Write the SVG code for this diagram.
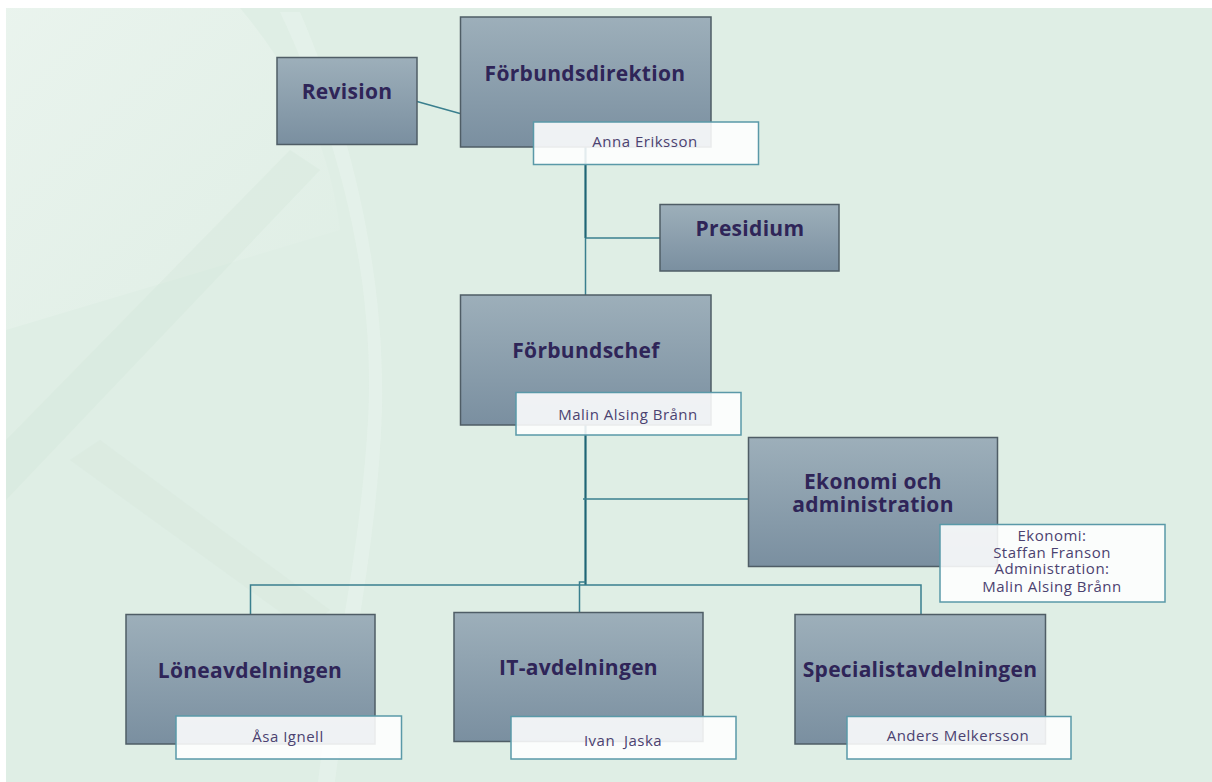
<svg xmlns="http://www.w3.org/2000/svg" width="1212" height="782" viewBox="0 0 1212 782">
<defs>
<linearGradient id="boxg" x1="0" y1="0" x2="0" y2="1">
<stop offset="0" stop-color="#9dafba"/>
<stop offset="1" stop-color="#7a8fa0"/>
</linearGradient>
<linearGradient id="fadeg" x1="0" y1="0" x2="1" y2="1">
<stop offset="0" stop-color="#eef6f1" stop-opacity="0.7"/>
<stop offset="1" stop-color="#eef6f1" stop-opacity="0"/>
</linearGradient>
<style>
.node rect.box{fill:url(#boxg);stroke:#4f5d66;stroke-width:1.5}
.node rect.lab{fill:#ffffff;fill-opacity:0.88;stroke:#5a99a8;stroke-width:1.5}
.title{font-family:"Open Sans",Lato,"Liberation Sans",sans-serif;font-weight:bold;font-size:21px;letter-spacing:0.3px;fill:#2f2558;text-anchor:middle}
.name{font-family:"Open Sans",Lato,"Liberation Sans",sans-serif;font-size:15px;letter-spacing:0.5px;fill:#4b4270;text-anchor:middle}
.conn line,.conn polyline{stroke:#3a7f8e;stroke-width:1.5;fill:none}
.conn .main{stroke:#1f6575;stroke-width:2.2}
</style>
</defs>
<rect x="0" y="0" width="1212" height="782" fill="#ffffff"/>
<rect x="6" y="8" width="1206" height="774" fill="#dfeee5"/>
<g id="background">
<path d="M6,8 L240,8 C300,80 330,150 340,230 L6,330 Z" fill="url(#fadeg)"/>
<path d="M6,440 L290,150 L320,170 L6,500 Z" fill="#d2e3d8" opacity="0.3"/>
<path d="M280,12 C345,150 375,290 368,420 C360,560 330,680 318,782 L335,782 C350,660 378,540 382,410 C385,280 355,140 300,12 Z" fill="#e8f3ec" opacity="0.6"/>
<path d="M100,440 L330,610 L305,630 L70,460 Z" fill="#d2e3d8" opacity="0.25"/>
</g>
<g id="connectors" class="conn">
<line x1="417" y1="101.5" x2="460" y2="113.5"/>
<line class="main" x1="585.5" y1="147" x2="585.5" y2="238"/>
<line x1="585.5" y1="238" x2="585.5" y2="295"/>
<line x1="585.5" y1="238" x2="660" y2="238"/>
<line class="main" x1="585.5" y1="425" x2="585.5" y2="585"/>
<line x1="583" y1="499" x2="748" y2="499"/>
<polyline points="250.5,614 250.5,585 921,585 921,614"/>
<polyline points="579.5,612 579.5,582 585.5,582"/>
</g>
<g id="revision" class="node">
<rect class="box" x="277" y="57.5" width="140" height="87"/>
<text class="title" x="347" y="99">Revision</text>
</g>
<g id="forbundsdirektion" class="node">
<rect class="box" x="460.5" y="17" width="250.5" height="130"/>
<text class="title" x="585" y="81">Förbundsdirektion</text>
<rect class="lab" x="533.5" y="122" width="225" height="42.5"/>
<text class="name" x="645" y="147">Anna Eriksson</text>
</g>
<g id="presidium" class="node">
<rect class="box" x="660" y="204.5" width="179" height="66.5"/>
<text class="title" x="750" y="236">Presidium</text>
</g>
<g id="forbundschef" class="node">
<rect class="box" x="460.5" y="295" width="250.5" height="130"/>
<text class="title" x="586" y="358">Förbundschef</text>
<rect class="lab" x="516" y="392.5" width="225" height="42.5"/>
<text class="name" x="628" y="420">Malin Alsing Brånn</text>
</g>
<g id="ekonomi" class="node">
<rect class="box" x="748.5" y="437.5" width="249" height="129"/>
<text class="title" x="873" y="489">Ekonomi och</text>
<text class="title" x="873" y="512">administration</text>
<rect class="lab" x="940" y="524.5" width="225" height="77.5"/>
<text class="name" x="1052" y="540.5">Ekonomi:</text>
<text class="name" x="1052" y="557.5">Staffan Franson</text>
<text class="name" x="1052" y="574">Administration:</text>
<text class="name" x="1052" y="591.5">Malin Alsing Brånn</text>
</g>
<g id="loneavdelningen" class="node">
<rect class="box" x="126" y="614.5" width="249" height="129.5"/>
<text class="title" x="250" y="678">Löneavdelningen</text>
<rect class="lab" x="176" y="716" width="225.5" height="43"/>
<text class="name" x="288" y="742">Åsa Ignell</text>
</g>
<g id="itavdelningen" class="node">
<rect class="box" x="454" y="612.5" width="249" height="129"/>
<text class="title" x="578.5" y="675">IT-avdelningen</text>
<rect class="lab" x="511" y="716.5" width="225" height="42.5"/>
<text class="name" x="623" y="745.5" xml:space="preserve">Ivan  Jaska</text>
</g>
<g id="specialistavdelningen" class="node">
<rect class="box" x="795" y="614.5" width="250.5" height="129.5"/>
<text class="title" x="920" y="677">Specialistavdelningen</text>
<rect class="lab" x="847" y="716.5" width="224" height="42.5"/>
<text class="name" x="958" y="740.5">Anders Melkersson</text>
</g>
</svg>
